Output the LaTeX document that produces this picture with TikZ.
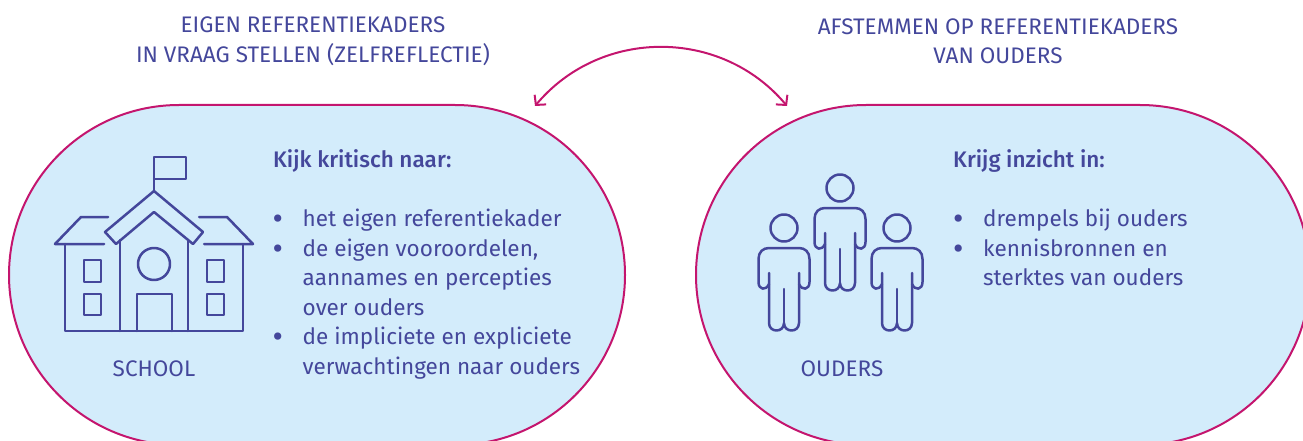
\documentclass[tikz,border=0pt]{standalone}
\usepackage{fontspec}
\setmainfont[BoldFont={Fira Sans Medium}]{Fira Sans}
\usetikzlibrary{arrows.meta, positioning}
\definecolor{ink}{HTML}{44479B}
\definecolor{rim}{HTML}{C4156E}
\definecolor{sky}{HTML}{D3ECFB}
\newcommand{\bul}{\makebox[30pt][l]{\raisebox{-3pt}{\fontsize{32}{29.5}\selectfont •}}}
\newcommand{\ind}{\hspace*{30pt}}
\tikzset{
    blob/.style={draw=rim,fill=sky,line width=2pt,rounded corners=170pt,minimum height=340pt,inner sep=0pt},
    icon/.style={draw=ink,line width=2.5pt,line join=round,line cap=round},
    txt/.style={text=ink,font=\fontsize{22.5}{29.5}\selectfont,inner sep=0pt},
    head/.style={txt,font=\fontsize{22.5}{29.5}\selectfont\bfseries},
    swap/.style={draw=rim,line width=2pt,{Straight Barb[length=7pt,width=15pt]}-{Straight Barb[length=7pt,width=15pt]}},
    person/.pic={
        \draw[icon] (0,0) circle (13.5);
        \draw[icon] (-15,45) -- (-15,95) .. controls (-15,105) and (0,105) .. (0,95)
            .. controls (0,105) and (15,105) .. (15,95) -- (15,45);
        \draw[icon] (-15,56) .. controls (-18,63) and (-25.5,62) .. (-25.5,54) -- (-25.5,31)
            .. controls (-25.5,24) and (-21,20) .. (-15,20) -- (15,20)
            .. controls (21,20) and (25.5,24) .. (25.5,31) -- (25.5,54)
            .. controls (25.5,62) and (18,63) .. (15,56);
        \draw[icon] (0,61) -- (0,95);
    },
}
\begin{document}
\begin{tikzpicture}[x=1pt,y=-1pt]
\useasboundingbox (0,0) rectangle (1303,441);
\clip (0,0) rectangle (1303,441);
\node[blob,minimum width=616pt] (school) at (317,275) {};
\node[blob,minimum width=614pt] (ouders) at (1003,275) {};
\coordinate (swapl) at (535,106);
\coordinate (swapr) at (787,106);
\draw[swap] (swapl) to[out=50,in=130,looseness=1.04] (swapr);
\node[txt,align=center] (eigen) at (313,41) {EIGEN REFERENTIEKADERS\\IN VRAAG STELLEN (ZELFREFLECTIE)};
\node[txt,align=center] (afstem) at (998,41) {AFSTEMMEN OP REFERENTIEKADERS\\VAN OUDERS};
\node[txt] (schoollabel) at (154,369) {SCHOOL};
\node[txt] (ouderslabel) at (842,369) {OUDERS};
\node[head,anchor=west] (kijk) at (273,161) {Kijk kritisch naar:};
\node[txt,anchor=north west,align=left] (kijklist) at (272.5,209) {\bul het eigen referentiekader\\
    \bul de eigen vooroordelen,\\
    \ind aannames en percepties\\
    \ind over ouders\\
    \bul de impliciete en expliciete\\
    \ind verwachtingen naar ouders};
\node[head,anchor=west] (krijg) at (953,161) {Krijg inzicht in:};
\node[txt,anchor=north west,align=left] (krijglist) at (953,209) {\bul drempels bij ouders\\
    \bul kennisbronnen en\\
    \ind sterktes van ouders};
% school
\draw[icon] (154,191) -- (154,157) -- (186,157) -- (186,179) -- (154,179);
\draw[icon] (154,191) -- (203,232) -- (193,244) -- (154,212) -- (116,244) -- (105,232) -- cycle;
\draw[icon] (120,240) -- (120,331);
\draw[icon] (188,240) -- (188,331);
\draw[icon] (108,217) -- (81,217) -- (55,244) -- (104,244);
\draw[icon] (199,217) -- (227,217) -- (253,244) -- (204,244);
\draw[icon] (65,244) -- (65,331) -- (243,331) -- (243,244);
\draw[icon] (84,260) rectangle (101,282);
\draw[icon] (84,294) rectangle (101,315);
\draw[icon] (207,260) rectangle (224,282);
\draw[icon] (207,294) rectangle (224,315);
\draw[icon] (154,264) circle (16);
\draw[icon] (137,331) -- (137,294) -- (172,294) -- (172,331);
% ouders
\pic at (840,188) {person};
\pic at (784,228) {person};
\pic at (897,228) {person};
\end{tikzpicture}
\end{document}
